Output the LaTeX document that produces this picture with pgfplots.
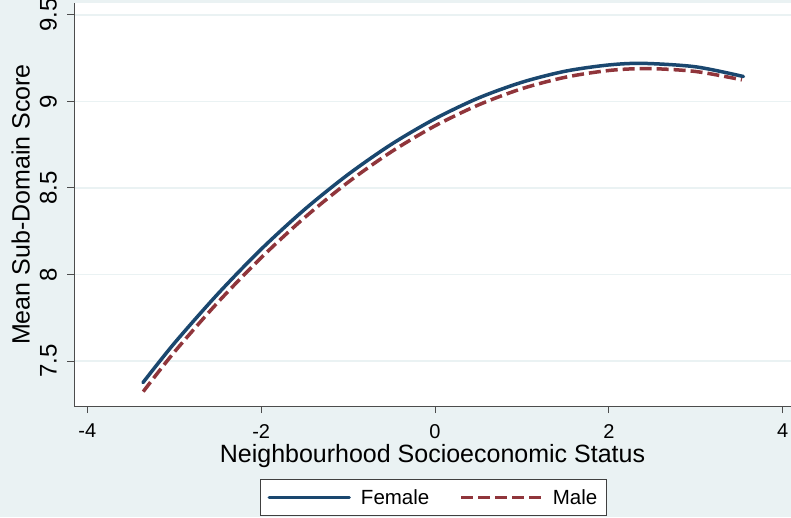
\documentclass[border=0pt]{standalone}
\usepackage{pgfplots}
\pgfplotsset{compat=1.18}
\usepackage{fontspec}
\setmainfont{Liberation Sans}
\definecolor{bg}{RGB}{234,242,243}
\definecolor{stnavy}{RGB}{26,71,111}
\definecolor{stmaroon}{RGB}{144,53,59}
\begin{document}
\begin{tikzpicture}
\fill[bg] (0,0) rectangle (791pt,517pt);
\begin{axis}[
  at={(74pt,111pt)}, anchor=south west,
  scale only axis, width=717pt, height=403pt,
  xmin=-4.153, xmax=4.095, ymin=7.240, ymax=9.569,
  axis background/.style={fill=white},
  axis x line*=bottom, axis y line*=left,
  axis line style={black!70, line width=1pt, -},
  xtick={-4,-2,0,2,4}, ytick={7.5,8,8.5,9,9.5},
  tick align=outside, major tick length=7pt,
  tick style={black!70, line width=1pt},
  ymajorgrids, grid style={bg, line width=1.5pt},
  /pgf/number format/assume math mode=true,
  xticklabel style={font=\fontsize{20}{24}\selectfont, inner sep=0pt, anchor=north},
  yticklabel style={font=\fontsize{24}{28}\selectfont, inner sep=0pt, rotate=90, anchor=south},
  xticklabel shift=11pt, yticklabel shift=10pt,
  xlabel={Neighbourhood Socioeconomic Status},
  ylabel={Mean Sub-Domain Score},
  xlabel style={at={(axis description cs:0.5,-0.0955)}, anchor=north, inner sep=0pt, font=\fontsize{25}{30}\selectfont},
  ylabel style={at={(axis description cs:-0.0614,0.5)}, rotate=0, anchor=south, inner sep=0pt, font=\fontsize{25}{30}\selectfont},
  legend columns=2,
  legend image code/.code={\draw[#1] (0pt,0pt) -- (80pt,0pt);},
  legend style={at={(axis description cs:0.2594,-0.1811)}, anchor=north west,
    draw=black!75, line width=1pt, fill=white, font=\fontsize{20.5}{24}\selectfont,
    inner xsep=7pt, inner ysep=8pt,
    nodes={inner sep=2pt, anchor=west},
    /tikz/column 1/.style={column sep=8pt},
    /tikz/column 2/.style={column sep=28pt},
    /tikz/column 3/.style={column sep=8pt}},
]
\addplot[stnavy, line width=3.5pt, line cap=round, smooth] coordinates {
(-3.36,7.375) (-3,7.602) (-2.5,7.887) (-2,8.146) (-1.5,8.376) (-1,8.578) (-0.5,8.753)
(0,8.900) (0.5,9.020) (1,9.111) (1.5,9.175) (2,9.211) (2.4,9.220) (3,9.200) (3.548,9.144)};
\addlegendentry{Female}
\addplot[stmaroon, line width=3.5pt, dash pattern=on 12pt off 5pt, smooth] coordinates {
(-3.357,7.323) (-3,7.551) (-2.5,7.838) (-2,8.097) (-1.5,8.329) (-1,8.533) (-0.5,8.710)
(0,8.859) (0.5,8.980) (1,9.074) (1.5,9.140) (2,9.179) (2.45,9.190) (3,9.173) (3.53,9.125)};
\addlegendentry{Male}
\end{axis}
\pgfresetboundingbox
\useasboundingbox (0,0) rectangle (791pt,517pt);
\end{tikzpicture}
\end{document}
